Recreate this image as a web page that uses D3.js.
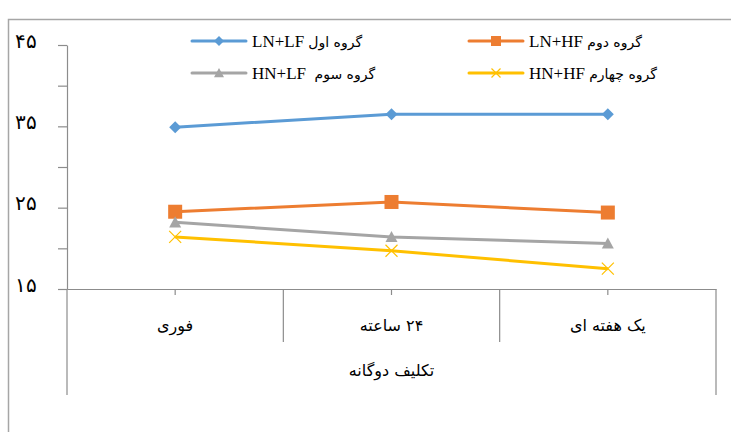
<!DOCTYPE html>
<html>
<head>
<meta charset="utf-8">
<script src="https://cdn.jsdelivr.net/npm/d3@7"></script>
<style>
  html, body { margin: 0; padding: 0; background: #fff; }
  svg { display: block; }
  text { font-family: "Liberation Serif", "DejaVu Sans", serif; fill: #000; }
</style>
</head>
<body>
<svg id="chart" width="731" height="432"></svg>
<script>
// Categories along the bottom axis and the group label beneath them
const categories = ["فوری", "۲۴ ساعته", "یک هفته ای"];
const groupLabel = "تکلیف دوگانه";

// Series values per category
const group1 = [34.9, 36.5, 36.5];   // LN+LF
const group2 = [24.5, 25.7, 24.4];   // LN+HF
const group3 = [23.2, 21.4, 20.6];   // HN+LF
const group4 = [21.4, 19.7, 17.5];   // HN+HF

// Series names shown in the legend (code + Persian group name)
const seriesCodes = ["LN+LF", "LN+HF", "HN+LF", "HN+HF"];
const seriesTitles = ["گروه اول", "گروه دوم", "گروه سوم", "گروه چهارم"];

// Value axis ticks
const yTickValues = [15, 20, 25, 30, 35, 40, 45];
const yLabelValues = [15, 25, 35, 45];
const yTickLabels = ["۱۵", "۲۵", "۳۵", "۴۵"];

const colors = ["#5B9BD5", "#ED7D31", "#A5A5A5", "#FFC000"];
const markers = ["diamond", "square", "triangle", "cross"];
const series = [group1, group2, group3, group4].map((values, i) => ({
  code: seriesCodes[i], title: seriesTitles[i], values, color: colors[i], marker: markers[i]
}));

const svg = d3.select("#chart");
const axisColor = "#8c8c8c";

// Chart frame (left and top edges)
svg.append("path")
  .attr("d", "M8.5,432 V19.5 H731")
  .attr("fill", "none")
  .attr("stroke", "#a6a6a6")
  .attr("stroke-width", 1.5);

const plotLeft = 67, plotRight = 716, plotTop = 45, plotBottom = 289;

const x = d3.scaleBand().domain(categories).range([plotLeft, plotRight]).padding(0);
const y = d3.scaleLinear().domain([15, 45]).range([plotBottom, plotTop]);
const cx = d => x(d) + x.bandwidth() / 2;

// Value axis
const yAxis = d3.axisLeft(y)
  .tickValues(yTickValues)
  .tickSize(9)
  .tickSizeOuter(0)
  .tickPadding(21)
  .tickFormat(d => {
    const i = yLabelValues.indexOf(d);
    return i >= 0 ? yTickLabels[i] : "";
  });

const gy = svg.append("g").attr("transform", `translate(${plotLeft},0)`).call(yAxis);
gy.select(".domain").attr("stroke", axisColor).attr("stroke-width", 1.2);
gy.selectAll(".tick line").attr("stroke", axisColor).attr("stroke-width", 1.2);
gy.selectAll(".tick text")
  .attr("font-size", 20)
  .attr("dy", "0.1em")
  .style("font-family", "'DejaVu Sans', sans-serif")
  .style("font-weight", "300");

// Category axis (Persian labels laid out right-to-left)
const xAxis = d3.axisBottom(x).tickSize(6).tickSizeOuter(0).tickPadding(0);
const gx = svg.append("g").attr("transform", `translate(0,${plotBottom})`).call(xAxis);
gx.select(".domain").attr("stroke", axisColor).attr("stroke-width", 1.2);
gx.selectAll(".tick line").attr("stroke", axisColor).attr("stroke-width", 1.2);
gx.selectAll(".tick text")
  .attr("font-size", 16)
  .attr("y", 36)
  .attr("dy", "0.35em")
  .style("direction", "rtl")
  .style("font-family", "'DejaVu Sans', sans-serif");

// Category separators and outer group borders
const bounds = categories.map(c => x(c)).concat([x.range()[1]]);
svg.append("g").selectAll("line")
  .data(bounds)
  .join("line")
  .attr("x1", d => d).attr("x2", d => d)
  .attr("y1", plotBottom)
  .attr("y2", (d, i) => (i === 0 || i === bounds.length - 1) ? 395 : 342)
  .attr("stroke", axisColor)
  .attr("stroke-width", 1.2);

svg.append("text")
  .attr("x", (plotLeft + plotRight) / 2)
  .attr("y", 370)
  .attr("text-anchor", "middle")
  .attr("dy", "0.35em")
  .attr("font-size", 16)
  .style("direction", "rtl")
  .style("font-family", "'DejaVu Sans', sans-serif")
  .text(groupLabel);

// Marker shapes
function drawMarker(g, type, color, size) {
  const s = size / 2;
  if (type === "diamond") {
    g.append("path").attr("d", `M0,${-s} L${s},0 L0,${s} L${-s},0 Z`).attr("fill", color);
  } else if (type === "square") {
    g.append("rect").attr("x", -s).attr("y", -s).attr("width", size).attr("height", size).attr("fill", color);
  } else if (type === "triangle") {
    g.append("path").attr("d", `M0,${-s} L${s},${s * 0.85} L${-s},${s * 0.85} Z`).attr("fill", color);
  } else if (type === "cross") {
    g.append("path").attr("d", `M${-s},${-s} L${s},${s} M${-s},${s} L${s},${-s}`)
      .attr("stroke", color).attr("stroke-width", 1.2).attr("fill", "none");
  }
}

const line = d3.line().x((d, i) => cx(categories[i])).y(d => y(d));

series.forEach(s => {
  svg.append("path")
    .attr("d", line(s.values))
    .attr("fill", "none")
    .attr("stroke", s.color)
    .attr("stroke-width", 3)
    .attr("stroke-linejoin", "round");
  s.values.forEach((v, i) => {
    const g = svg.append("g").attr("transform", `translate(${cx(categories[i])},${y(v)})`);
    drawMarker(g, s.marker, s.color, s.marker === "square" ? 14 : 12);
  });
});

// Legend: two rows, two columns
const legendPos = [[192, 41], [469, 41], [192, 73], [469, 73]];
series.forEach((s, i) => {
  const [lx, ly] = legendPos[i];
  const g = svg.append("g").attr("transform", `translate(${lx},${ly})`);
  g.append("line").attr("x1", 0).attr("x2", 54).attr("y1", 0).attr("y2", 0)
    .attr("stroke", s.color).attr("stroke-width", 3).attr("stroke-linecap", "round");
  const mg = g.append("g").attr("transform", "translate(27,0)");
  drawMarker(mg, s.marker, s.color, s.marker === "cross" ? 9 : 10);
  const t = g.append("text")
    .attr("x", 60)
    .attr("y", 0)
    .attr("dy", "0.35em")
    .attr("font-size", 17);
  t.append("tspan").text(s.code + (i === 2 ? "\u00a0\u00a0" : " "));
  t.append("tspan").attr("font-size", 14).style("font-family", "'DejaVu Sans', sans-serif").text(s.title);
});
</script>
</body>
</html>
